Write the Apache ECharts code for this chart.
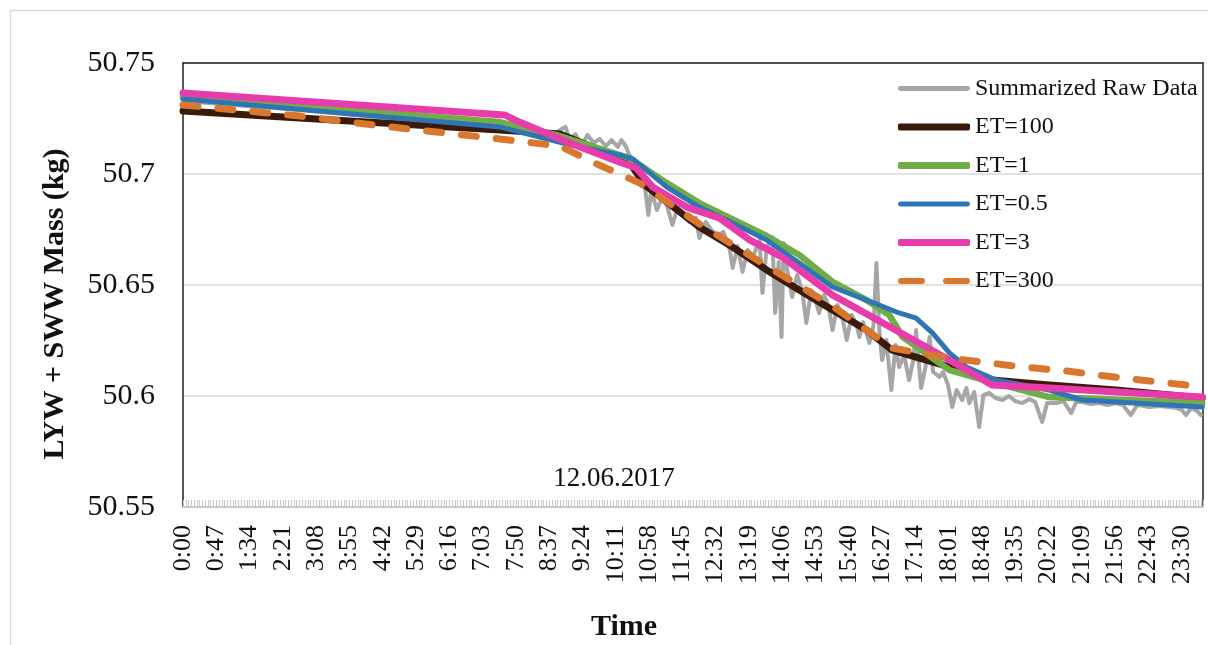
<!DOCTYPE html>
<html>
<head>
<meta charset="utf-8">
<script src="https://cdn.jsdelivr.net/npm/echarts@6/dist/echarts.min.js"></script>
<style>
  html, body { margin: 0; padding: 0; background: #ffffff; }
  #chart { width: 1208px; height: 645px; }
</style>
</head>
<body>
<div id="chart"></div>
<script>
// Time of day in minutes after midnight, mass in kg

// Summarized raw balance readings
const rawData = [
  [0,50.7329],[165,50.7288],[306,50.7248],[447,50.7212],[504,50.7194],[520,50.7171],
  [532,50.7198],[540,50.7212],[546,50.7153],[554,50.7180],[563,50.7126],[571,50.7176],
  [580,50.7140],[588,50.7158],[597,50.7126],[605,50.7153],[614,50.7122],[619,50.7153],
  [625,50.7126],[630,50.7086],[639,50.7041],[647,50.6995],[653,50.6919],[657,50.6815],
  [661,50.6928],[669,50.6838],[676,50.6892],[683,50.6860],[691,50.6770],[698,50.6847],
  [707,50.6815],[715,50.6784],[724,50.6802],[729,50.6712],[738,50.6784],[746,50.6748],
  [755,50.6721],[763,50.6739],[772,50.6658],[776,50.6577],[783,50.6676],[790,50.6559],
  [797,50.6658],[805,50.6631],[814,50.6703],[818,50.6464],[824,50.6667],[832,50.6716],
  [836,50.6374],[841,50.6604],[845,50.6266],[848,50.6689],[853,50.6568],[860,50.6446],
  [867,50.6545],[874,50.6477],[880,50.6329],[887,50.6477],[893,50.6432],[898,50.6374],
  [905,50.6455],[911,50.6410],[917,50.6297],[924,50.6410],[931,50.6351],[937,50.6252],
  [944,50.6365],[951,50.6320],[955,50.6266],[960,50.6333],[969,50.6239],[975,50.6320],
  [979,50.6599],[983,50.6297],[987,50.6162],[993,50.6252],[1000,50.6027],[1006,50.6230],
  [1011,50.6131],[1018,50.6185],[1025,50.6072],[1031,50.6162],[1035,50.6297],[1039,50.6140],
  [1042,50.6036],[1048,50.6126],[1054,50.6266],[1059,50.6108],[1068,50.6086],[1073,50.6108],
  [1080,50.6050],[1086,50.5950],[1092,50.6027],[1100,50.5982],[1106,50.6036],[1110,50.5968],
  [1117,50.6018],[1124,50.5860],[1130,50.6004],[1138,50.6014],[1147,50.5991],[1157,50.5982],
  [1166,50.6000],[1175,50.5977],[1185,50.5968],[1195,50.5986],[1203,50.5973],[1213,50.5883],
  [1220,50.5968],[1233,50.5968],[1243,50.5977],[1254,50.5923],[1261,50.5973],[1269,50.5973],
  [1282,50.5964],[1293,50.5968],[1305,50.5959],[1317,50.5968],[1327,50.5959],[1338,50.5914],
  [1347,50.5959],[1357,50.5955],[1364,50.5950],[1378,50.5955],[1392,50.5950],[1402,50.5946],
  [1410,50.5937],[1416,50.5914],[1423,50.5946],[1432,50.5932],[1437,50.5914]
];

// Simulated mass for each ET setting
const et100 = [
  [0,50.7284],[447,50.7198],[532,50.7180],[630,50.7054],[652,50.6950],[729,50.6761],
  [776,50.6671],[824,50.6568],[870,50.6477],[917,50.6387],[965,50.6297],[1001,50.6207],
  [1082,50.6131],[1142,50.6072],[1223,50.6050],[1317,50.6027],[1439,50.5991]
];
const et1 = [
  [0,50.7347],[447,50.7234],[532,50.7171],[630,50.7072],[683,50.6959],[729,50.6869],
  [824,50.6721],[870,50.6635],[917,50.6514],[965,50.6432],[997,50.6365],[1016,50.6266],
  [1082,50.6117],[1142,50.6063],[1223,50.5995],[1439,50.5968]
];
const et05 = [
  [0,50.7338],[447,50.7212],[546,50.7131],[616,50.7086],[635,50.7068],[683,50.6941],
  [729,50.6851],[776,50.6779],[824,50.6703],[870,50.6599],[917,50.6491],[965,50.6432],
  [1011,50.6374],[1035,50.6351],[1058,50.6284],[1082,50.6194],[1106,50.6131],[1148,50.6072],
  [1223,50.6027],[1269,50.5982],[1439,50.5950]
];
const et3 = [
  [0,50.7365],[454,50.7266],[475,50.7234],[546,50.7140],[616,50.7054],[640,50.7027],
  [663,50.6941],[711,50.6851],[757,50.6802],[800,50.6703],[846,50.6626],[917,50.6455],
  [1011,50.6288],[1082,50.6162],[1142,50.6050],[1223,50.6036],[1439,50.5995]
];
const et300 = [
  [0,50.7311],[165,50.7261],[306,50.7207],[447,50.7158],[532,50.7126],[581,50.7050],
  [645,50.6959],[729,50.6775],[824,50.6586],[917,50.6405],[1001,50.6216],[1082,50.6171],
  [1128,50.6153],[1185,50.6131],[1247,50.6113],[1303,50.6090],[1364,50.6068],[1439,50.6041]
];

// Axis settings
const yTicks = { min: 50.55, max: 50.75, step: 0.05 };
const xTicks = { min: 0, max: 1440, step: 47 };
const dateLabel = '12.06.2017';

const serif = '"Liberation Serif", "Times New Roman", serif';

function hhmm(v) {
  const m = Math.round(v);
  const h = Math.floor(m / 60);
  const mm = m % 60;
  return h + ':' + (mm < 10 ? '0' : '') + mm;
}

function lineSeries(name, data, color, width, dash) {
  return {
    name: name,
    type: 'line',
    data: data,
    symbol: 'none',
    showSymbol: false,
    smooth: false,
    xAxisIndex: 0,
    yAxisIndex: 0,
    lineStyle: { color: color, width: width, type: dash || 'solid', cap: 'round', join: 'round' },
    itemStyle: { color: color },
    emphasis: { disabled: true }
  };
}

const chart = echarts.init(document.getElementById('chart'), null, { renderer: 'canvas' });

chart.setOption({
  animation: false,
  backgroundColor: '#ffffff',
  textStyle: { fontFamily: serif },
  grid: { left: 183, right: 5, top: 63, bottom: 138, containLabel: false },
  graphic: [
    {
      type: 'rect', silent: true, z: -10,
      shape: { x: 10.5, y: 10.5, width: 1210, height: 650 },
      style: { fill: 'none', stroke: '#d9d9d9', lineWidth: 1.5 }
    },
    {
      type: 'text', silent: true,
      x: 55, y: 304, rotation: Math.PI / 2,
      style: {
        text: 'LYW + SWW Mass (kg)', fill: '#111',
        font: 'bold 30px ' + serif, textAlign: 'center', textVerticalAlign: 'middle'
      }
    },
    {
      type: 'text', silent: true,
      x: 614, y: 479,
      style: {
        text: dateLabel, fill: '#111',
        font: '27px ' + serif, textAlign: 'center', textVerticalAlign: 'middle'
      }
    },
    {
      type: 'text', silent: true,
      x: 624, y: 627,
      style: {
        text: 'Time', fill: '#111',
        font: 'bold 30px ' + serif, textAlign: 'center', textVerticalAlign: 'middle'
      }
    }
  ],
  legend: {
    orient: 'vertical',
    left: 893,
    top: 71,
    itemWidth: 72,
    itemHeight: 7,
    itemGap: 13.5,
    textStyle: { fontFamily: serif, fontSize: 24, color: '#111', lineHeight: 25 },
    data: [
      { name: 'Summarized Raw Data', icon: 'path://M2,1H70A2,2 0 0 1 70,6H2A2,2 0 0 1 2,1Z' },
      { name: 'ET=100', icon: 'roundRect' },
      { name: 'ET=1', icon: 'roundRect' },
      { name: 'ET=0.5', icon: 'path://M2,1H70A2,2 0 0 1 70,6H2A2,2 0 0 1 2,1Z' },
      { name: 'ET=3', icon: 'roundRect' },
      { name: 'ET=300', icon: 'path://M3,0H24A3,3 0 0 1 24,6H3A3,3 0 0 1 3,0Z M48,0H69A3,3 0 0 1 69,6H48A3,3 0 0 1 48,0Z' }
    ]
  },
  xAxis: [
    {
      type: 'value',
      min: xTicks.min,
      max: xTicks.max,
      interval: xTicks.step,
      axisLine: { show: true, lineStyle: { color: '#c8c8c8', width: 2 } },
      axisTick: { show: true, inside: true, length: 7, lineStyle: { color: '#c8c8c8', width: 1 } },
      minorTick: { show: true, splitNumber: 12, length: 7, lineStyle: { color: '#c8c8c8', width: 1 } },
      splitLine: { show: false },
      axisLabel: {
        show: true,
        rotate: 90,
        margin: 18,
        showMaxLabel: false,
        fontFamily: serif,
        fontSize: 26,
        color: '#111',
        formatter: hhmm
      }
    },
    {
      type: 'value',
      position: 'top',
      min: xTicks.min,
      max: xTicks.max,
      axisLine: { show: true, onZero: false, lineStyle: { color: '#222', width: 1.5 } },
      axisTick: { show: false },
      axisLabel: { show: false },
      splitLine: { show: false }
    }
  ],
  yAxis: [
    {
      type: 'value',
      min: yTicks.min,
      max: yTicks.max,
      interval: yTicks.step,
      axisLine: { show: true, onZero: false, lineStyle: { color: '#222', width: 1.5 } },
      axisTick: { show: false },
      splitLine: { show: true, lineStyle: { color: '#d9d9d9', width: 1.5 } },
      axisLabel: { margin: 28, fontFamily: serif, fontSize: 30, color: '#111' }
    },
    {
      type: 'value',
      position: 'right',
      min: yTicks.min,
      max: yTicks.max,
      axisLine: { show: true, onZero: false, lineStyle: { color: '#222', width: 1.5 } },
      axisTick: { show: false },
      axisLabel: { show: false },
      splitLine: { show: false }
    }
  ],
  series: [
    lineSeries('Summarized Raw Data', rawData, '#a6a6a6', 4),
    lineSeries('ET=100', et100, '#3b1a0c', 7),
    lineSeries('ET=1', et1, '#70ad47', 6.5),
    lineSeries('ET=0.5', et05, '#2e75b6', 5),
    lineSeries('ET=3', et3, '#e93cac', 7),
    lineSeries('ET=300', et300, '#d9772e', 7, [15, 20])
  ]
});
</script>
</body>
</html>
